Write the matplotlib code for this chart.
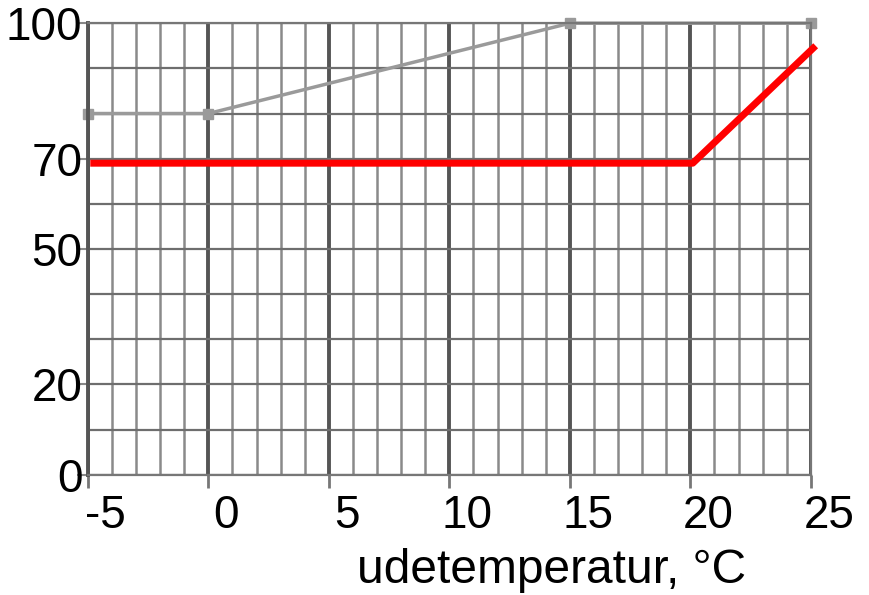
import matplotlib
matplotlib.use("Agg")
import matplotlib.pyplot as plt
import matplotlib.transforms as mtransforms

plt.rcParams['font.family'] = ['Liberation Sans', 'DejaVu Sans']

# data
grey_x = [-5, 0, 15, 25]
grey_y = [80, 80, 100, 100]
red_x = [-4.9, 20.1, 25.2]
red_y = [69, 69, 95]

x_major = [-5, 0, 5, 10, 15, 20, 25]
x_minor = list(range(-5, 26))
y_labels = [0, 20, 50, 70, 100]
y_grid = list(range(0, 101, 10))

fig = plt.figure(figsize=(8.7, 5.95), dpi=100)
ax = fig.add_axes([0.101, 0.202, 0.831, 0.759])

ax.set_xlim(-5, 25)
ax.set_ylim(0, 100)

# grid: thin lines every degree, heavy every 5, horizontal every 10
for v in x_minor:
    if v in x_major:
        ax.axvline(v, color='#555555', lw=2.8, zorder=1)
    else:
        ax.axvline(v, color='#8a8a8a', lw=1.8, zorder=1)
for v in y_grid:
    ax.axhline(v, color='#6e6e6e', lw=1.6, zorder=1)

ax.plot(grey_x, grey_y, color='#9a9a9a', lw=2.5, marker='s', ms=7,
        zorder=2, clip_on=False)
ax.plot(red_x, red_y, color='#ff0000', lw=5, zorder=3, clip_on=False,
        solid_capstyle='butt')

ax.set_xticks(x_major)
ax.set_xticklabels([str(v) for v in x_major])
ax.set_yticks(y_labels)
ax.set_yticklabels([str(v) for v in y_labels])

ax.tick_params(axis='x', length=9, width=2, color='#777777', pad=5,
               labelsize=33)
ax.tick_params(axis='y', length=8, width=1.5, color='#888888', pad=-4,
               labelsize=33)

# the x labels sit a little to the right of their grid lines
offset = mtransforms.ScaledTranslation(0.18, 0, fig.dpi_scale_trans)
for lab in ax.get_xticklabels():
    lab.set_transform(lab.get_transform() + offset)

for s in ax.spines.values():
    s.set_color('#777777')
    s.set_linewidth(1.6)
ax.spines['left'].set_color('#555555')
ax.spines['left'].set_linewidth(2.8)

fig.text(0.634, 0.042, 'udetemperatur, °C', fontsize=34.5, ha='center',
         va='center')

fig.savefig('out.png', dpi=100)
